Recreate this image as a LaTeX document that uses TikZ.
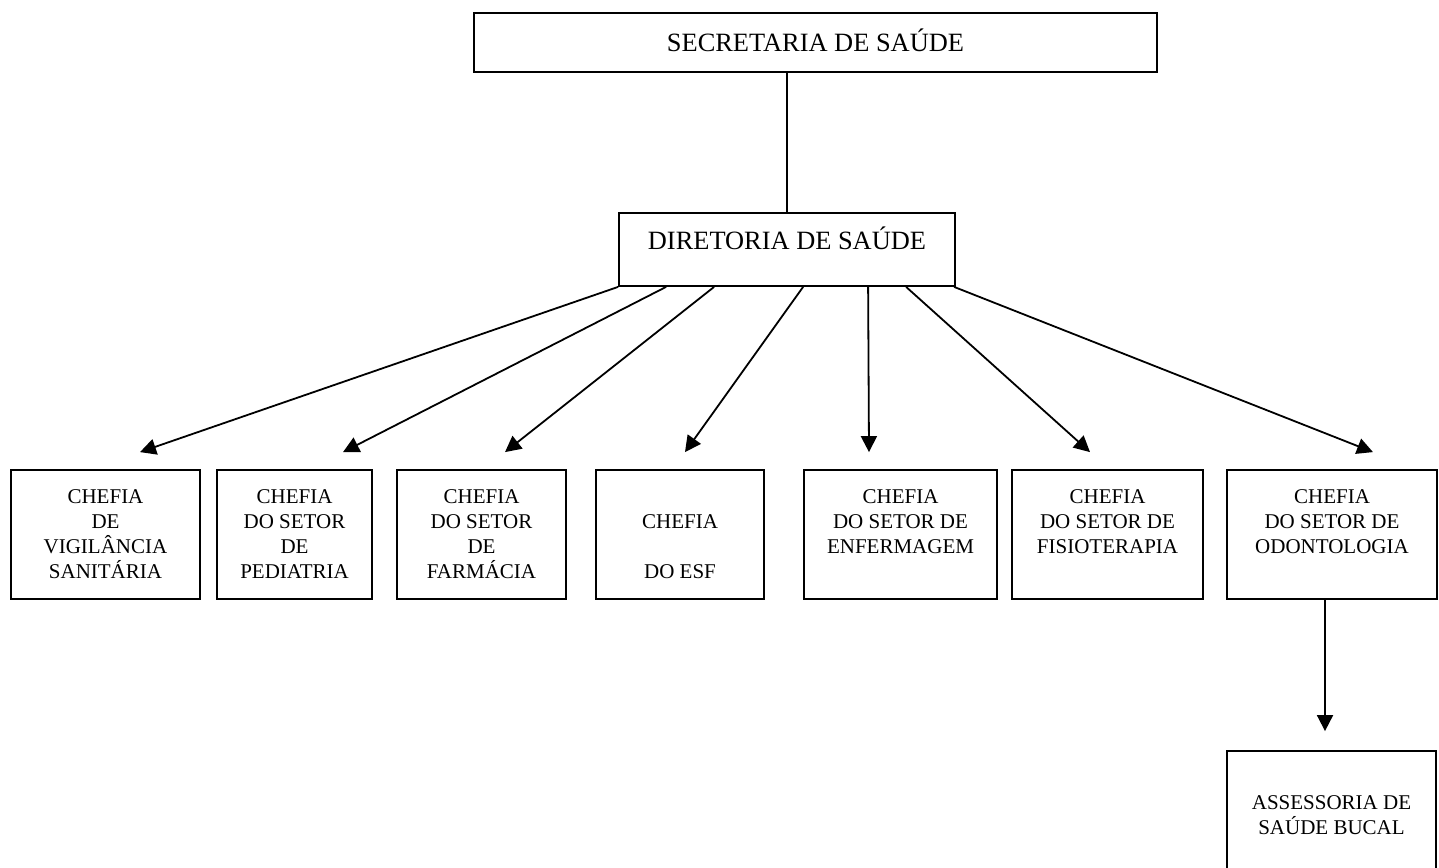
\documentclass[tikz,border=0pt]{standalone}
\usepackage{fontspec}
\setmainfont{Liberation Serif}
\usetikzlibrary{arrows.meta,calc}
\tikzset{
  topo/.style={draw,rectangle,inner sep=0pt,font=\fontsize{13.2}{15}\selectfont},
  chefe/.style={draw,rectangle,inner sep=0pt,align=center,minimum height=64.5pt,
    font=\fontsize{10.5}{12.5}\selectfont},
}
\begin{document}
\begin{tikzpicture}[x=0.5pt,y=-0.5pt,line width=0.9pt,>={Triangle[length=8pt,width=8pt]}]
  \clip (0,0) rectangle (1439,867);
  \node [topo,minimum width=341.5pt,minimum height=29.5pt,text height=9pt,text depth=0pt] (sec) at (815.5,42.5) {SECRETARIA DE SAÚDE};
  \node [topo,minimum width=168pt,minimum height=36.5pt,text height=10pt,text depth=10pt] (dir) at (787,249.5) {DIRETORIA DE SAÚDE};

  \node [chefe,minimum width=94.5pt] (vig) at (105.5,534.5) {CHEFIA\\DE\\VIGILÂNCIA\\SANITÁRIA};
  \node [chefe,minimum width=77.5pt] (ped) at (294.5,534.5) {CHEFIA\\DO SETOR\\DE\\PEDIATRIA};
  \node [chefe,minimum width=84.5pt] (farm) at (481.5,534.5) {CHEFIA\\DO SETOR\\DE\\FARMÁCIA};
  \node [chefe,minimum width=84pt] (esf) at (680,534.5) {\phantom{CHEFIA}\\CHEFIA\\\phantom{DO}\\DO ESF};
  \node [chefe,minimum width=96.5pt] (enf) at (900.5,534.5) {CHEFIA\\DO SETOR DE\\ENFERMAGEM\\\phantom{CHEFIA}};
  \node [chefe,minimum width=95.5pt] (fis) at (1107.5,534.5) {CHEFIA\\DO SETOR DE\\FISIOTERAPIA\\\phantom{CHEFIA}};
  \node [chefe,minimum width=105pt] (odo) at (1332,534.5) {CHEFIA\\DO SETOR DE\\ODONTOLOGIA\\\phantom{CHEFIA}};
  \node [chefe,minimum width=104.5pt] (ass) at (1331.5,815.5) {ASSESSORIA DE\\SAÚDE BUCAL};

  \draw (sec.south -| dir.north) -- (dir.north);

  % setas da diretoria para as chefias
  \foreach \dx/\n/\tx in {0/vig/34.5, 48/ped/48.5, 96/farm/23.5, 185/esf/5,
                          250/enf/-31.5, 288/fis/-17.5, 336/odo/41}{
    \coordinate (\n-in) at ($(\n.north)+(\tx,-17)$);
    \draw[->] ($(dir.south west)+(\dx,0)$) -- (\n-in);
  }

  \coordinate (ass-in) at ($(ass.north)+(-6.5,-19)$);
  \draw[->] (odo.south -| ass-in) -- (ass-in);
\end{tikzpicture}
\end{document}
